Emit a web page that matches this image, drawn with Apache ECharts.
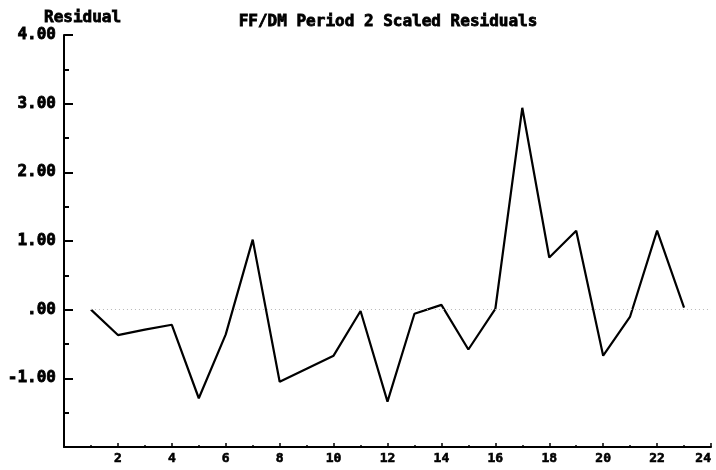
<!DOCTYPE html>
<html>
<head>
<meta charset="utf-8">
<script src="https://cdn.jsdelivr.net/npm/echarts@6/dist/echarts.min.js"></script>
<style>
  html, body { margin: 0; padding: 0; background: #fff; }
  #chart { width: 716px; height: 470px; }
</style>
</head>
<body>
<div id="chart"></div>
<script>
// Period index (x) and scaled residual (y) for each observation
const periods = [1, 2, 3, 4, 5, 6, 7, 8, 9, 10, 11, 12, 13, 14, 15, 16, 17, 18, 19, 20, 21, 22, 23];
const residuals = [0.00, -0.37, -0.29, -0.22, -1.29, -0.36, 1.02, -1.05, -0.86, -0.67, -0.02, -1.34,
                   -0.06, 0.07, -0.58, 0.01, 2.94, 0.76, 1.15, -0.67, -0.10, 1.15, 0.03];

const titleText = 'FF/DM Period 2 Scaled Residuals';
const yName = 'Residual';

const FONT = '"DejaVu Sans Mono", "Liberation Mono", monospace';

// heavy, blocky lettering: bold face plus a thin stroke of the same colour
const heavyText = (size) => ({
  fontFamily: FONT, fontWeight: 'bold', fontSize: size, color: '#000',
  textBorderColor: '#000', textBorderWidth: 0.8
});

const chart = echarts.init(document.getElementById('chart'), null, { renderer: 'canvas' });

chart.setOption({
  backgroundColor: '#ffffff',
  animation: false,
  title: [
    {
      text: titleText,
      left: 383, top: 9, textAlign: 'center',
      textStyle: heavyText(16)
    },
    {
      text: yName,
      left: 39, top: 5,
      textStyle: heavyText(16)
    }
  ],
  grid: { left: 64, right: 5, top: 35, bottom: 23, containLabel: false, outerBoundsMode: 'none' },
  xAxis: {
    type: 'value',
    min: 0, max: 24, interval: 2,
    axisLine: { show: true, onZero: false, lineStyle: { color: '#000', width: 2 } },
    axisTick: { show: true, inside: true, length: 4, lineStyle: { color: '#000', width: 1.5 } },
    minorTick: { show: true, splitNumber: 2, length: 2, lineStyle: { color: '#000', width: 1.5 } },
    splitLine: { show: false },
    axisLabel: {
      margin: 5,
      showMaxLabel: true,
      alignMaxLabel: 'right',
      hideOverlap: false,
      ...heavyText(13),
      textBorderWidth: 0.6,
      formatter: v => (v === 0 ? '' : String(v))
    }
  },
  yAxis: {
    type: 'value',
    min: -2, max: 4, interval: 1,
    axisLine: { show: true, onZero: false, lineStyle: { color: '#000', width: 2 } },
    axisTick: { show: true, inside: true, length: 9, lineStyle: { color: '#000', width: 2 } },
    minorTick: { show: true, splitNumber: 2, length: 5, lineStyle: { color: '#000', width: 2 } },
    splitLine: { show: false },
    axisLabel: {
      margin: 8,
      ...heavyText(16),
      formatter: v => {
        if (v === -2) return '';
        if (v === 0) return '.00';
        return v.toFixed(2);
      }
    }
  },
  series: [
    {
      type: 'line',
      data: periods.map((p, i) => [p, residuals[i]]),
      showSymbol: false,
      lineStyle: { color: '#000', width: 2.2 },
      markLine: {
        silent: true,
        symbol: 'none',
        label: { show: false },
        lineStyle: { color: '#b8b8b8', width: 1, type: [1, 3] },
        data: [[{ coord: [1, 0] }, { coord: [24, 0] }]]
      }
    }
  ]
});
</script>
</body>
</html>
